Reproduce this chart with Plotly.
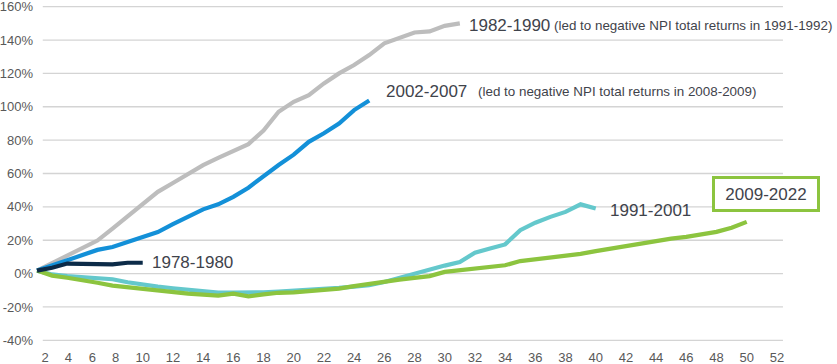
import plotly.graph_objects as go

# Quarter index of the first point for every series
start_q = 3

s_1978_1980 = [1.8, 3.5, 6.0, 6.0, 5.5, 5.5, 6.5, 6.5]
s_1982_1990 = [1.8, 6.3, 10.8, 15.3, 19.8, 27.0, 34.5, 42.0, 49.0, 54.3, 59.6, 65.0,
               69.4, 73.5, 77.6, 85.8, 97.0, 103.0, 107.0, 114.0, 120.0, 125.0,
               131.0, 138.0, 141.0, 144.5, 145.2, 148.5, 150.0]
s_2002_2007 = [1.8, 5.0, 8.2, 11.4, 14.2, 15.9, 18.9, 21.9, 24.9, 29.6, 34.3, 38.5,
               41.5, 46.0, 51.5, 58.4, 65.1, 71.3, 79.0, 84.1, 90.0, 98.0, 103.8]
s_1991_2001 = [1.8, -0.5, -1.5, -2.2, -2.5, -3.4, -5.2, -6.8, -7.8, -8.8, -9.5, -10.5,
               -11.4, -11.4, -11.6, -11.2, -10.8, -10.4, -10.0, -9.4, -8.6, -7.8, -7.0,
               -5.0, -2.5, 0.3, 2.5, 4.8, 7.0, 12.5, 15.0, 17.5, 26.0, 30.5, 34.0, 37.0,
               41.5, 39.0]
s_2009_2022 = [1.8, -1.2, -2.5, -3.8, -5.5, -7.2, -8.2, -9.0, -10.2, -11.4, -12.0, -12.6,
               -13.2, -12.0, -13.6, -12.5, -11.5, -11.2, -10.5, -9.8, -9.0, -7.5, -6.0,
               -4.8, -3.6, -2.6, -1.5, 1.0, 2.0, 3.0, 4.3, 5.0, 7.5, 8.5, 10.0, 10.7,
               11.8, 13.5, 15.0, 16.8, 18.3, 19.5, 21.0, 22.0, 23.3, 25.0, 27.5, 31.0]

x_tick_labels = [str(v) for v in range(2, 54, 2)]
y_tick_values = list(range(-40, 161, 20))

series = [
    ("1982-1990", s_1982_1990, "#bdbdbd"),
    ("2002-2007", s_2002_2007, "#1390d8"),
    ("1991-2001", s_1991_2001, "#64c8cc"),
    ("2009-2022", s_2009_2022, "#8cc43f"),
    ("1978-1980", s_1978_1980, "#0c2b48"),
]

fig = go.Figure()
for name, vals, col in series:
    xs = list(range(start_q, start_q + len(vals)))
    fig.add_trace(go.Scatter(x=xs, y=vals, mode="lines", name=name,
                             line=dict(color=col, width=4.2), showlegend=False,
                             hoverinfo="skip"))

# gridlines (drawn as shapes so they start where the reference's do)
for yv in y_tick_values:
    fig.add_shape(type="line", xref="x", yref="y", x0=3.38, x1=52.4, y0=yv, y1=yv,
                  line=dict(color="#d4d4d4", width=1.3), layer="below")

# x tick positions (the first labels sit slightly off the linear grid in the reference)
x_tick_pos = [3.53, 5.07, 6.67, 8.2] + list(range(10, 54, 2))

TXT = "#3f434b"
MAIN = dict(family="Liberation Sans, Arial, sans-serif", size=17, color=TXT)
NOTE = dict(family="Liberation Sans, Arial, sans-serif", size=13.4, color=TXT)

ann = [
    dict(x=10.46, y=6.6, text="1978-1980", font=MAIN),
    dict(x=25.96, y=109.2, text="2002-2007", font=MAIN),
    dict(x=32.1, y=109.2, text="(led to negative NPI total returns in 2008-2009)", font=NOTE),
    dict(x=31.5, y=148.8, text="1982-1990", font=MAIN),
    dict(x=37.1, y=148.8, text="(led to negative NPI total returns in 1991-1992)", font=NOTE),
    dict(x=40.8, y=37.8, text="1991-2001", font=MAIN),
]
for a in ann:
    fig.add_annotation(xref="x", yref="y", xanchor="left", yanchor="middle",
                       showarrow=False, **a)

fig.add_annotation(xref="x", yref="y", x=51.3, y=47.7, text="2009-2022", font=MAIN,
                   showarrow=False, xanchor="center", yanchor="middle",
                   bordercolor="#8cc43f", borderwidth=3, borderpad=3,
                   width=96, height=24, bgcolor="white")

fig.update_layout(
    width=837, height=364,
    margin=dict(l=34, r=48, t=5, b=22, autoexpand=False),
    paper_bgcolor="white", plot_bgcolor="white",
    xaxis=dict(range=[2.8, 52.8], showgrid=False, zeroline=False, showline=False,
               automargin=False,
               tickmode="array", tickvals=x_tick_pos, ticktext=x_tick_labels,
               tickfont=dict(family="Liberation Sans, Arial, sans-serif", size=13, color="#595959"),
               ticks="outside", ticklen=3, tickcolor="rgba(0,0,0,0)"),
    yaxis=dict(range=[-41, 161], showgrid=False, zeroline=False, showline=False,
               automargin=False,
               tickmode="array", tickvals=y_tick_values,
               ticktext=[f"{v}%" for v in y_tick_values],
               tickfont=dict(family="Liberation Sans, Arial, sans-serif", size=13, color="#595959"),
               ticks="", ticklabeloverflow="allow"),
)

fig.write_html("out.html", config={"displayModeBar": False},
               post_script="document.body.style.margin='0px';document.body.style.overflow='hidden';")
